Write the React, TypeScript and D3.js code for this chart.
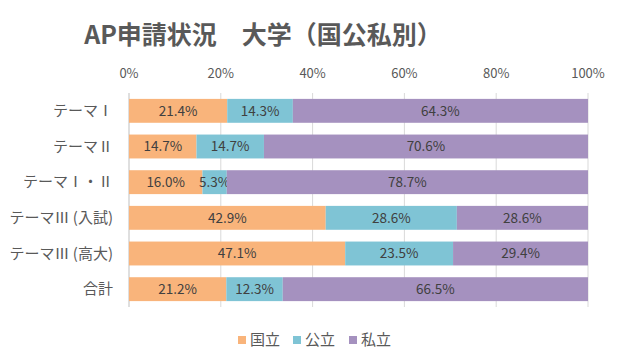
import React from "react";
import * as d3 from "d3";

const categories = ["テーマⅠ", "テーマⅡ", "テーマⅠ・Ⅱ", "テーマⅢ (入試)", "テーマⅢ (高大)", "合計"];
const seriesNames = ["国立", "公立", "私立"];
const kokuritsu = [21.4, 14.7, 16.0, 42.9, 47.1, 21.2];
const kouritsu = [14.3, 14.7, 5.3, 28.6, 23.5, 12.3];
const shiritsu = [64.3, 70.6, 78.7, 28.6, 29.4, 66.5];
const tickValues = [0, 0.2, 0.4, 0.6, 0.8, 1.0];
const colors = ["#F9B47B", "#7FC4D5", "#A591BF"];

const W = 626;
const H = 363;
const FONT = "'Noto Sans CJK JP', 'Noto Sans', sans-serif";

export default function App() {
  const series = [kokuritsu, kouritsu, shiritsu];
  const rows = categories.map((c, i) => {
    const vals = series.map((s) => s[i]);
    const total = d3.sum(vals);
    let acc = 0;
    return {
      cat: c,
      segs: vals.map((v, k) => {
        const x0 = acc / total;
        acc += v;
        return { v, k, x0, x1: acc / total };
      }),
    };
  });

  const x = d3.scaleLinear().domain([0, 1]).range([129, 588]);
  const y = d3.scaleBand().domain(categories).range([93, 307]).paddingInner(0.33).paddingOuter(0.165);
  const fmt = d3.format(".0%");

  const legendX = [238, 293, 349];

  return (
    <svg width={W} height={H} style={{ position: "absolute", left: 0, top: 0, background: "#fff" }} fontFamily={FONT}>
      <rect x={0} y={0} width={W} height={H} fill="#fff" />
      <text x={263} y={44} textAnchor="middle" fontSize={25} fontWeight="bold" fill="#595959">
        AP申請状況　大学（国公私別）
      </text>
      {tickValues.map((t) => (
        <g key={t}>
          <line x1={x(t)} x2={x(t)} y1={93} y2={307} stroke={t === 0 ? "#bfbfbf" : "#d9d9d9"} strokeWidth={1} />
          <text x={x(t)} y={78} textAnchor="middle" fontSize={13} fill="#595959">
            {fmt(t)}
          </text>
        </g>
      ))}
      {rows.map((r) => (
        <g key={r.cat}>
          <text x={113} y={(y(r.cat) as number) + y.bandwidth() / 2} dy="0.35em" textAnchor="end" fontSize={15} fill="#595959">
            {r.cat}
          </text>
          {r.segs.map((s) => (
            <g key={s.k}>
              <rect
                x={x(s.x0)}
                y={y(r.cat)}
                width={x(s.x1) - x(s.x0)}
                height={y.bandwidth()}
                fill={colors[s.k]}
              />
              <text
                x={(x(s.x0) + x(s.x1)) / 2}
                y={(y(r.cat) as number) + y.bandwidth() / 2}
                dy="0.35em"
                textAnchor="middle"
                fontSize={13.5}
                fill="#404040"
              >
                {s.v.toFixed(1)}%
              </text>
            </g>
          ))}
        </g>
      ))}
      {seriesNames.map((n, k) => (
        <g key={n}>
          <rect x={legendX[k]} y={336} width={8} height={8} fill={colors[k]} />
          <text x={legendX[k] + 12} y={340} dy="0.35em" fontSize={15} fill="#595959">
            {n}
          </text>
        </g>
      ))}
    </svg>
  );
}
